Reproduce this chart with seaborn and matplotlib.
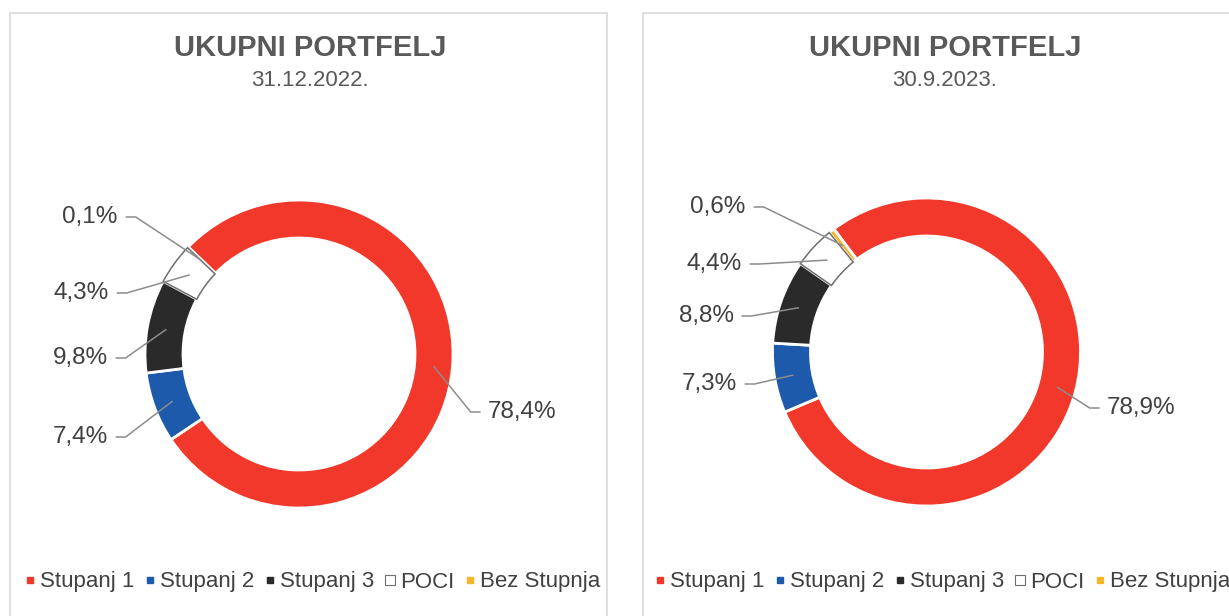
import matplotlib
matplotlib.use('Agg')
import numpy as np
import matplotlib.pyplot as plt
import seaborn as sns
from matplotlib.patches import Rectangle
from matplotlib.lines import Line2D

# podaci
categories = ['Stupanj 1', 'Stupanj 2', 'Stupanj 3', 'POCI', 'Bez Stupnja']
values_2022 = [78.4, 7.4, 9.8, 4.3, 0.1]
values_2023 = [78.9, 7.3, 8.8, 4.4, 0.6]
dates = ['31.12.2022.', '30.9.2023.']
title = 'UKUPNI PORTFELJ'

sns.set_theme(style='white')
plt.rcParams['font.family'] = ['Liberation Sans', 'DejaVu Sans']

palette = sns.color_palette(['#F2382A', '#1D5AAB', '#2A2A2A', '#FFFFFF', '#F7B52C'])
poci_edge = '#6E6E6E'
text_col = '#404040'

W, H = 1229, 616
fig = plt.figure(figsize=(W / 100, H / 100), dpi=100)
ax = fig.add_axes([0, 0, 1, 1])


def fmt(v):
    return f'{v:.1f}'.replace('.', ',') + '%'


# raspored (pikseli, y od vrha)
panels = [
    dict(values=values_2022, date=dates[0], box=(10, 607), tx=310, cx=299, cy=354, start=136,
         labels=[(522, 412), (80, 437), (80, 358), (81, 293), (90, 217)], legx=313),
    dict(values=values_2023, date=dates[1], box=(643, 1260), tx=945, cx=926.5, cy=352, start=127,
         labels=[(1141, 408), (709, 384), (706, 316), (714, 264), (718, 207)], legx=943),
]

R, WIDTH = 154, 38
all_labels = []
for p in panels:
    ax.add_patch(Rectangle((p['box'][0], -5), p['box'][1] - p['box'][0], H - 13 + 5,
                           fill=False, edgecolor='#D9D9D9', lw=1.2))
    ax.text(p['tx'], H - 48, title, ha='center', va='center', fontsize=21,
            fontweight='bold', color='#595959')
    ax.text(p['tx'], H - 80, p['date'], ha='center', va='center', fontsize=16, color='#595959')

    wedges, _ = ax.pie(p['values'], colors=palette, radius=R, center=(p['cx'], H - p['cy']),
                       startangle=p['start'], counterclock=False,
                       wedgeprops=dict(width=WIDTH, edgecolor='white', linewidth=2))
    wedges[3].set_edgecolor(poci_edge)
    wedges[3].set_linewidth(1.1)
    wedges[3].set_zorder(3)

    for w, v, (lx, ly) in zip(wedges, p['values'], p['labels']):
        t = ax.text(lx, H - ly, fmt(v), ha='center', va='center', fontsize=17.5, color=text_col)
        mid = np.deg2rad((w.theta1 + w.theta2) / 2)
        rm = R - WIDTH / 2
        end = (p['cx'] + rm * np.cos(mid), H - p['cy'] + rm * np.sin(mid))
        all_labels.append((t, lx < p['cx'], end))

    handles = []
    for c, name in zip(palette, categories):
        if name == 'POCI':
            handles.append(Line2D([], [], ls='', marker='s', markersize=6.5,
                                  markerfacecolor='white', markeredgecolor=poci_edge,
                                  markeredgewidth=0.8))
        else:
            handles.append(Line2D([], [], ls='', marker='s', markersize=5,
                                  markerfacecolor=c, markeredgecolor=c))
    fig.legend(handles, categories, ncol=5, loc='center',
               bbox_to_anchor=(p['legx'] / W, 1 - 582 / H), frameon=False, fontsize=16,
               handlelength=0.4, handletextpad=0.25, columnspacing=0.5, labelcolor=text_col)

ax.set_xlim(0, W)
ax.set_ylim(0, H)
ax.axis('off')

# linije do oznaka
fig.canvas.draw()
renderer = fig.canvas.get_renderer()
for t, left, end in all_labels:
    bb = t.get_window_extent(renderer)
    y = t.get_position()[1]
    if left:
        x0 = bb.x1 + 8
        x1 = x0 + 10
    else:
        x0 = bb.x0 - 7
        x1 = x0 - 10
    ax.plot([x0, x1, end[0]], [y, y, end[1]], color='#8C8C8C', lw=1.1, zorder=5,
            solid_capstyle='butt')

fig.savefig('out.png', dpi=100)
